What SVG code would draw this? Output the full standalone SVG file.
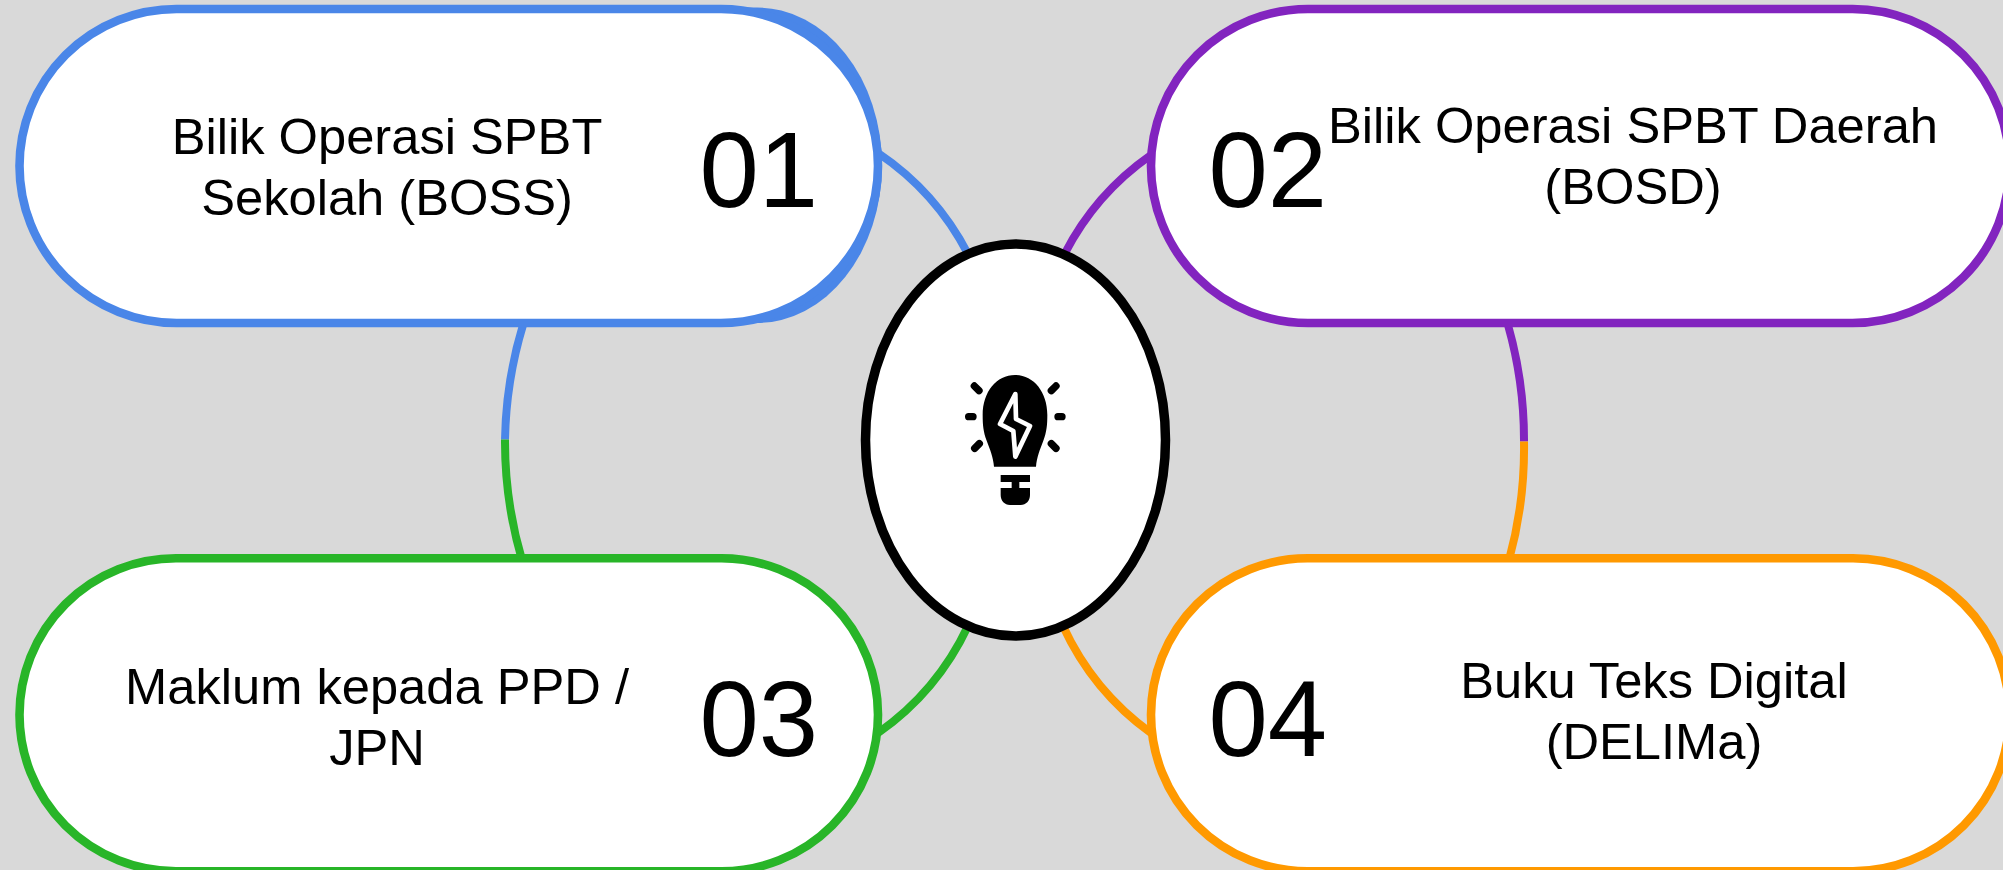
<svg xmlns="http://www.w3.org/2000/svg" width="2003" height="870" viewBox="0 0 2003 870">
<style>
.pill{fill:#fff;stroke-width:8.6}
.c{fill:none;stroke-width:8}
.t{font-family:"Liberation Sans",Arial,sans-serif;font-size:50.67px;fill:#000;text-anchor:middle}
.n{font-family:"Liberation Sans",Arial,sans-serif;font-size:106.67px;fill:#000}
</style>
<rect width="2003" height="870" fill="#d9d9d9"/>
<g id="connectors">
<path class="c" stroke="#4a86e8" d="M878 153A272 272 0 0 1 968 254"/>
<path class="c" stroke="#4a86e8" d="M523 325A420 420 0 0 0 505 439.5"/>
<path class="c" stroke="#28b528" d="M505 439.5A420 420 0 0 0 522 560"/>
<path class="c" stroke="#28b528" d="M878 733A272 272 0 0 0 968 626"/>
<path class="c" stroke="#8224bf" d="M1151 155A272 272 0 0 0 1064.5 254"/>
<path class="c" stroke="#8224bf" d="M1508 325A420 420 0 0 1 1524 441.5"/>
<path class="c" stroke="#ff9900" d="M1524 441.5A420 420 0 0 1 1509 560"/>
<path class="c" stroke="#ff9900" d="M1151 733A272 272 0 0 1 1063 626"/>
</g>
<g id="node-01">
<path fill="#4a86e8" d="M740 7.5H757A125 157.75 0 0 1 757 323H740Z"/>
<rect class="pill" stroke="#4a86e8" x="19.5" y="9" width="858.5" height="314" rx="157"/>
<text class="t"><tspan x="387" y="154">Bilik Operasi SPBT</tspan><tspan x="387" y="215">Sekolah (BOSS)</tspan></text>
<text class="n" x="699.5" y="207">01</text>
</g>
<g id="node-02">
<rect class="pill" stroke="#8224bf" x="1151" y="9" width="858.5" height="314" rx="157"/>
<text class="t"><tspan x="1633" y="143">Bilik Operasi SPBT Daerah</tspan><tspan x="1633" y="204">(BOSD)</tspan></text>
<text class="n" x="1208.5" y="207">02</text>
</g>
<g id="node-03">
<rect class="pill" stroke="#28b528" x="19.5" y="558.3" width="858.5" height="313" rx="156.5"/>
<text class="t"><tspan x="377" y="704">Maklum kepada PPD /</tspan><tspan x="377" y="765">JPN</tspan></text>
<text class="n" x="699.5" y="756">03</text>
</g>
<g id="node-04">
<rect class="pill" stroke="#ff9900" x="1151" y="558.3" width="858.5" height="313" rx="156.5"/>
<text class="t"><tspan x="1654" y="698">Buku Teks Digital</tspan><tspan x="1654" y="759">(DELIMa)</tspan></text>
<text class="n" x="1208.5" y="756">04</text>
</g>
<g id="node-center">
<ellipse cx="1015.5" cy="440" rx="150" ry="196" fill="#fff" stroke="#000" stroke-width="9.5"/>
<g transform="translate(930 350) scale(.33333)">
<path fill="#000" d="M192 350C190 322 180 298 170 272C160 246 158 225 158 195C158 125 200 75 255 75C310 75 352 125 352 195C352 225 350 246 340 272C330 298 320 322 318 350Z"/>
<path fill="#000" d="M212 375H300V396H268V414H300V435C300 452 288 465 272 465H240C224 465 212 452 212 435V414H245V396H212Z"/>
<path fill="none" stroke="#fff" stroke-width="14" stroke-linejoin="round" d="M256 132L210 222L250 243L256 320L300 228L258 207Z"/>
<path fill="none" stroke="#000" stroke-width="22" stroke-linecap="round" d="M133 108L147 122M116 200H129M134 295L148 281M378 108L364 122M384 200H396M378 295L364 281"/>
</g>
</g>
</svg>
